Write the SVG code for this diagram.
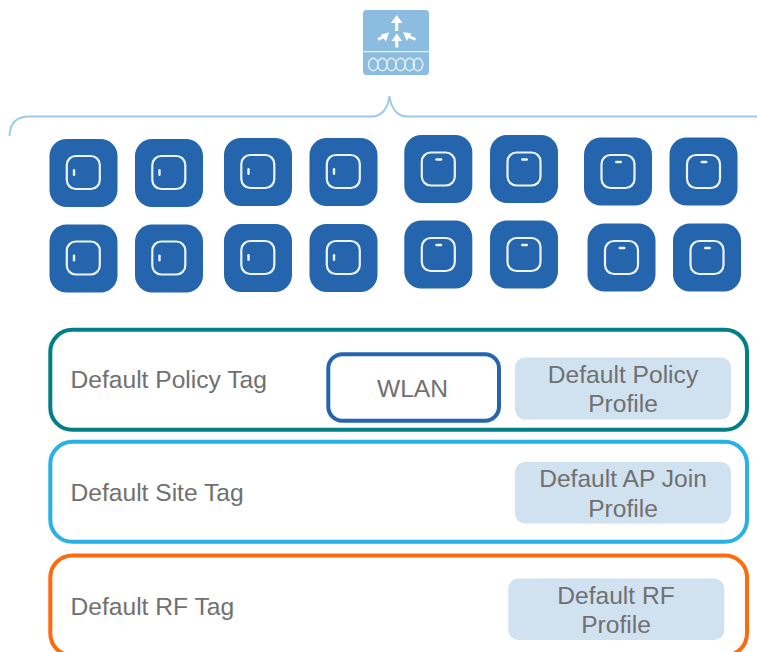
<svg xmlns="http://www.w3.org/2000/svg" width="757" height="652" viewBox="0 0 757 652">
<style>
text{font-family:"Liberation Sans",Arial,sans-serif;font-size:24.6px;fill:#707070}
.m{text-anchor:middle}
.tile{fill:#2565ad}
.ring{fill:none;stroke:#eef3f9;stroke-width:2.2}
.led{fill:#eef3f9}
.tag{fill:#fff;stroke-width:4}
.pale{fill:#d0e2f0}
.brace{fill:none;stroke:#9fcae8;stroke-width:2}
.w{fill:none;stroke:#fff;stroke-width:3}
.wf{fill:#fff}
.coil{fill:none;stroke:#e4f0f8;stroke-width:1.4}
</style>
<defs>
<g id="ap-side"><rect class="tile" width="68" height="68" rx="17"/><rect class="ring" x="17.300" y="17" width="33" height="33" rx="9"/><rect class="led" x="23.300" y="30" width="2.400" height="7" rx="1.200"/></g>
<g id="ap-top"><rect class="tile" width="68" height="68" rx="17"/><rect class="ring" x="17.500" y="17.500" width="33" height="33" rx="9"/><rect class="led" x="31" y="23.300" width="7" height="2.400" rx="1.200"/></g>
</defs>
<g id="connectors"><path class="brace" d="M9.500 136C10 123 17 116.500 29 116.500H372C382 116.500 388 108 389.500 96C391 108 397 116.500 407 116.500H757"/></g>
<g id="controller">
<rect x="363" y="10" width="66" height="65" rx="3.500" fill="#8cbde0"/>
<path d="M363 51.700H429" stroke="#e8f2f9" stroke-width="1.300"/>
<path class="w" d="M396.700 31V21M396.800 47.500V39M378 39.500L385 36M415.500 39.500L408 36"/>
<path class="wf" d="M396.700 15L402.500 23H391ZM396.800 33.500L402 41H391.500ZM389 32.500L386 41.500L380.800 34.500ZM403 32L411.500 33.500L406.800 41Z"/>
<g class="coil"><ellipse cx="373.300" cy="64.500" rx="4.800" ry="6.200"/><ellipse cx="382.400" cy="64.500" rx="4.800" ry="6.200"/><ellipse cx="391.500" cy="64.500" rx="4.800" ry="6.200"/><ellipse cx="400.600" cy="64.500" rx="4.800" ry="6.200"/><ellipse cx="409.700" cy="64.500" rx="4.800" ry="6.200"/><ellipse cx="418" cy="64.500" rx="4.800" ry="6.200"/></g>
</g>
<g id="ap-1"><use href="#ap-side" x="49.500" y="139"/></g>
<g id="ap-2"><use href="#ap-side" x="135" y="139"/></g>
<g id="ap-3"><use href="#ap-side" x="224" y="138"/></g>
<g id="ap-4"><use href="#ap-side" x="309.500" y="138"/></g>
<g id="ap-5"><use href="#ap-top" x="404.300" y="135"/></g>
<g id="ap-6"><use href="#ap-top" x="490" y="135"/></g>
<g id="ap-7"><use href="#ap-top" x="584" y="137.500"/></g>
<g id="ap-8"><use href="#ap-top" x="669.500" y="137.500"/></g>
<g id="ap-9"><use href="#ap-side" x="49.500" y="224.500"/></g>
<g id="ap-10"><use href="#ap-side" x="135" y="224.500"/></g>
<g id="ap-11"><use href="#ap-side" x="224" y="224"/></g>
<g id="ap-12"><use href="#ap-side" x="309.500" y="224"/></g>
<g id="ap-13"><use href="#ap-top" x="404.300" y="220.500"/></g>
<g id="ap-14"><use href="#ap-top" x="490" y="220.500"/></g>
<g id="ap-15"><use href="#ap-top" x="587.500" y="223.500"/></g>
<g id="ap-16"><use href="#ap-top" x="673" y="223.500"/></g>
<g id="policy-tag"><rect class="tag" x="50.300" y="329.800" width="696.700" height="100" rx="22" stroke="#007f86"/><text x="70.500" y="388">Default Policy Tag</text></g>
<g id="wlan"><rect x="328.300" y="354.300" width="170.700" height="66.400" rx="14" fill="#fff" stroke="#2565ad" stroke-width="4"/><text class="m" x="412.500" y="396.500">WLAN</text></g>
<g id="policy-profile"><rect class="pale" x="515" y="357.500" width="216" height="62" rx="10"/><text class="m" x="623" y="383">Default Policy</text><text class="m" x="623" y="412">Profile</text></g>
<g id="site-tag"><rect class="tag" x="50.300" y="441.800" width="696.700" height="100" rx="22" stroke="#29b0e4"/><text x="70.500" y="501">Default Site Tag</text></g>
<g id="join-profile"><rect class="pale" x="515" y="462" width="216" height="61.500" rx="10"/><text class="m" x="623" y="487">Default AP Join</text><text class="m" x="623" y="516.500">Profile</text></g>
<g id="rf-tag"><rect class="tag" x="50.300" y="555.500" width="696.700" height="100" rx="22" stroke="#ff6a0d"/><text x="70.500" y="615">Default RF Tag</text></g>
<g id="rf-profile"><rect class="pale" x="508.300" y="578.500" width="216" height="61.500" rx="10"/><text class="m" x="616" y="603.500">Default RF</text><text class="m" x="616" y="632.500">Profile</text></g>
</svg>
